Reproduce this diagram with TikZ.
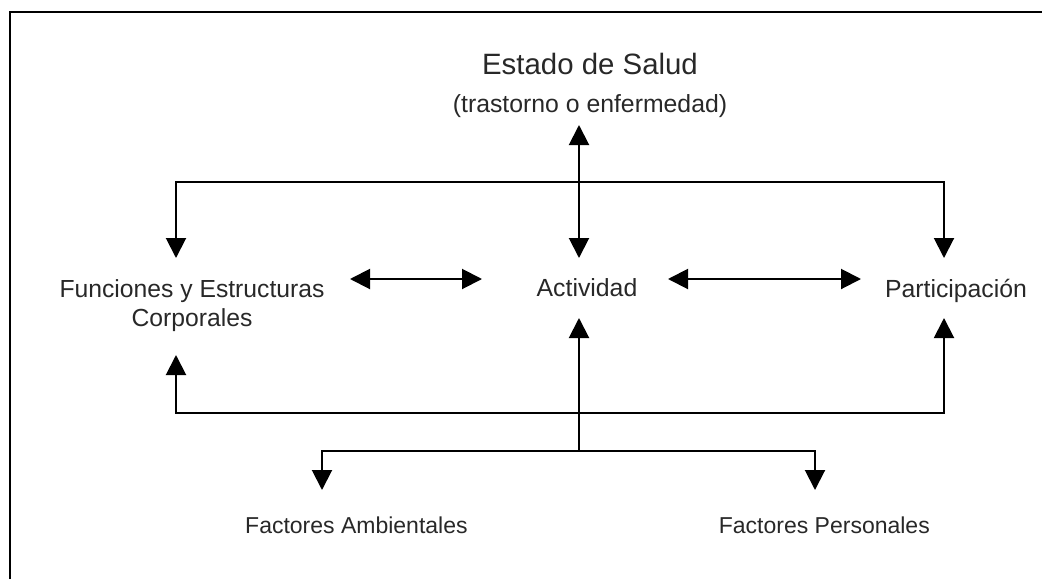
\documentclass[tikz,border=0pt]{standalone}
\usepackage{fontspec}
\setmainfont{Liberation Sans}
\usetikzlibrary{arrows.meta}
\definecolor{txt}{RGB}{40,40,40}
\tikzset{
  lbl/.style={anchor=base, inner sep=0pt, text=txt},
  conn/.style={line width=2pt, {Triangle[width=20pt,length=20pt]}-{Triangle[width=20pt,length=20pt]}},
  conn1/.style={line width=2pt, -{Triangle[width=20pt,length=20pt]}},
  frame/.style={line width=2.5pt}
}
\begin{document}
\begin{tikzpicture}[x=1pt,y=-1pt]
\useasboundingbox (0,0) rectangle (1042,579);
% frame (top and left only)
\draw[frame] (10,579) -- (10,12) -- (1042,12);

% labels
\node[lbl, font=\fontsize{29.4pt}{34pt}\selectfont] (estado) at (590,74) {Estado de Salud};
\node[lbl, font=\fontsize{24.8pt}{29pt}\selectfont] (estadosub) at (590,112) {(trastorno o enfermedad)};
\node[lbl, font=\fontsize{24.7pt}{29pt}\selectfont] (fun) at (192,297) {\begin{tabular}[t]{@{}c@{}}Funciones y Estructuras\\Corporales\end{tabular}};
\node[lbl, font=\fontsize{24.8pt}{29pt}\selectfont] (act) at (587,296) {Actividad};
\node[lbl, font=\fontsize{24.8pt}{29pt}\selectfont] (par) at (956,297) {Participación};
\node[lbl, anchor=base west, font=\fontsize{23pt}{27pt}\selectfont] (amb) at (245,533) {Factores Ambientales};
\node[lbl, anchor=base east, font=\fontsize{23pt}{27pt}\selectfont] (per) at (930,533) {Factores Personales};

% connector end points
\coordinate (estBot) at (579,125);
\coordinate (actTop) at (579,258);
\coordinate (actBot) at (579,318);
\coordinate (funTop) at (176,258);
\coordinate (funBot) at (176,355);
\coordinate (parTop) at (944,258);
\coordinate (parBot) at (944,318);
\coordinate (topJ) at (579,182);
\coordinate (botJ) at (579,413);
\coordinate (facJ) at (579,451);
\coordinate (ambTop) at (322,490);
\coordinate (perTop) at (815,490);
\coordinate (funR) at (350,279);
\coordinate (actL) at (482,279);
\coordinate (actR) at (668,279);
\coordinate (parL) at (861,279);

% connectors
\draw[conn] (estBot) -- (actTop);
\draw[conn] (funTop) |- (topJ) -| (parTop);
\draw[conn] (funR) -- (actL);
\draw[conn] (actR) -- (parL);
\draw[conn] (funBot) |- (botJ) -| (parBot);
\draw[conn1] (facJ) -- (actBot);
\draw[conn] (ambTop) |- (facJ) -| (perTop);
\end{tikzpicture}
\end{document}
